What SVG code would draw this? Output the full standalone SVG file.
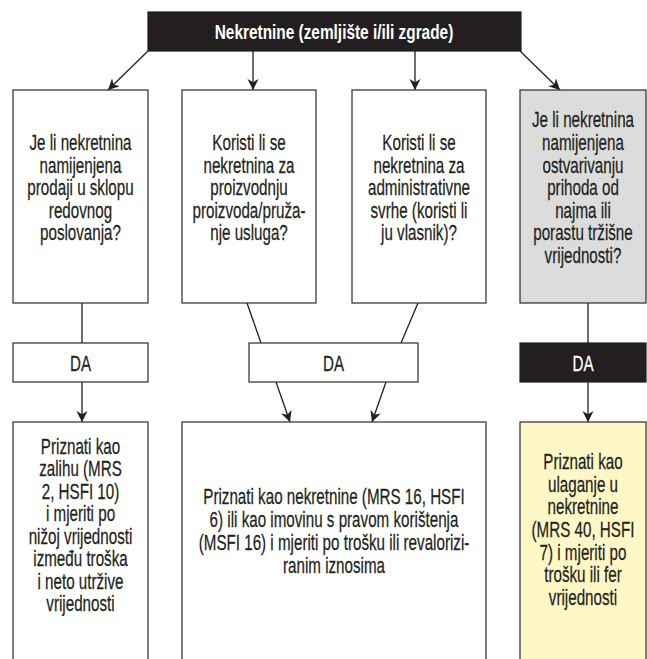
<svg xmlns="http://www.w3.org/2000/svg" width="647" height="659" viewBox="0 0 647 659">
<defs>
<style>
.box{fill:#ffffff;stroke:#2b2b2b;stroke-width:1.2}
.gray{fill:#dcdcdc}
.yellow{fill:#fff8c6}
.dark{fill:#231f20;stroke:#231f20}
.t{font-family:"Liberation Sans",Arial,sans-serif;font-size:22px;fill:#231f20;text-anchor:middle;stroke:#231f20;stroke-width:0.25}
.w{fill:#ffffff;stroke:#ffffff}
.b{font-weight:bold;font-size:20px;stroke:none}
.c{stroke:#231f20;stroke-width:1.3;fill:none}
.a{marker-end:url(#ah)}
</style>
<marker id="ah" markerUnits="userSpaceOnUse" markerWidth="12" markerHeight="12" refX="11" refY="5.5" orient="auto">
<path d="M0,0 L11,5.5 L0,11 L3.2,5.5 Z" fill="#231f20"/>
</marker>
</defs>
<rect width="647" height="659" fill="#ffffff"/>
<g id="connectors">
<line class="c a" x1="148" y1="51" x2="108" y2="90"/>
<line class="c a" x1="253" y1="51" x2="253" y2="90"/>
<line class="c a" x1="415" y1="51" x2="415" y2="90"/>
<line class="c a" x1="520" y1="51" x2="560" y2="90"/>
<line class="c" x1="82" y1="303" x2="82" y2="343"/>
<line class="c a" x1="82" y1="382" x2="82" y2="422"/>
<line class="c" x1="247" y1="303" x2="261" y2="343"/>
<line class="c a" x1="276" y1="382" x2="290" y2="422"/>
<line class="c" x1="418" y1="303" x2="401" y2="343"/>
<line class="c a" x1="386" y1="382" x2="372" y2="422"/>
<line class="c" x1="588" y1="303" x2="588" y2="343"/>
<line class="c a" x1="588" y1="382" x2="588" y2="422"/>
</g>
<g id="title">
<rect class="box dark" x="148" y="12" width="373" height="39"/>
<text class="t w b" transform="translate(334 0) scale(0.77 1)" x="0" y="39">Nekretnine (zemljište i/ili zgrade)</text>
</g>
<g id="q1">
<rect class="box" x="13" y="90" width="135" height="213"/>
<text class="t" transform="translate(80.5 0) scale(0.69 1)"><tspan x="0" y="150.5">Je li nekretnina</tspan><tspan x="0" y="173">namijenjena</tspan><tspan x="0" y="195.5">prodaji u sklopu</tspan><tspan x="0" y="218">redovnog</tspan><tspan x="0" y="240.5">poslovanja?</tspan></text>
</g>
<g id="q2">
<rect class="box" x="182" y="90" width="134" height="213"/>
<text class="t" transform="translate(249 0) scale(0.69 1)"><tspan x="0" y="150.5">Koristi li se</tspan><tspan x="0" y="173">nekretnina za</tspan><tspan x="0" y="195.5">proizvodnju</tspan><tspan x="0" y="218">proizvoda/pruža-</tspan><tspan x="0" y="240.5">nje usluga?</tspan></text>
</g>
<g id="q3">
<rect class="box" x="352" y="90" width="134" height="213"/>
<text class="t" transform="translate(419 0) scale(0.69 1)"><tspan x="0" y="150.5">Koristi li se</tspan><tspan x="0" y="173">nekretnina za</tspan><tspan x="0" y="195.5">administrativne</tspan><tspan x="0" y="218">svrhe (koristi li</tspan><tspan x="0" y="240.5">ju vlasnik)?</tspan></text>
</g>
<g id="q4">
<rect class="box gray" x="520" y="90" width="126" height="213"/>
<text class="t" transform="translate(583 0) scale(0.69 1)"><tspan x="0" y="127">Je li nekretnina</tspan><tspan x="0" y="150.5">namijenjena</tspan><tspan x="0" y="173">ostvarivanju</tspan><tspan x="0" y="195.5">prihoda od</tspan><tspan x="0" y="218">najma ili</tspan><tspan x="0" y="240.5">porastu tržišne</tspan><tspan x="0" y="263.5">vrijednosti?</tspan></text>
</g>
<g id="da1">
<rect class="box" x="13" y="343" width="135" height="39"/>
<text class="t" transform="translate(80.5 0) scale(0.69 1)" x="0" y="371">DA</text>
</g>
<g id="da2">
<rect class="box" x="249" y="343" width="169" height="39"/>
<text class="t" transform="translate(333.5 0) scale(0.69 1)" x="0" y="371">DA</text>
</g>
<g id="da3">
<rect class="box dark" x="520" y="343" width="126" height="39"/>
<text class="t w" transform="translate(583 0) scale(0.69 1)" x="0" y="371">DA</text>
</g>
<g id="r1">
<rect class="box" x="13" y="422" width="135" height="260"/>
<text class="t" transform="translate(80.5 0) scale(0.69 1)"><tspan x="0" y="454">Priznati kao</tspan><tspan x="0" y="476.5">zalihu (MRS</tspan><tspan x="0" y="499">2, HSFI 10)</tspan><tspan x="0" y="521.5">i mjeriti po</tspan><tspan x="0" y="544">nižoj vrijednosti</tspan><tspan x="0" y="566.5">između troška</tspan><tspan x="0" y="589">i neto utržive</tspan><tspan x="0" y="611.5">vrijednosti</tspan></text>
</g>
<g id="r2">
<rect class="box" x="182" y="422" width="304" height="260"/>
<text class="t" transform="translate(334 0) scale(0.69 1)"><tspan x="0" y="504">Priznati kao nekretnine (MRS 16, HSFI</tspan><tspan x="0" y="527">6) ili kao imovinu s pravom korištenja</tspan><tspan x="0" y="550">(MSFI 16) i mjeriti po trošku ili revalorizi-</tspan><tspan x="0" y="573">ranim iznosima</tspan></text>
</g>
<g id="r3">
<rect class="box yellow" x="520" y="422" width="126" height="260"/>
<text class="t" transform="translate(583 0) scale(0.69 1)"><tspan x="0" y="469">Priznati kao</tspan><tspan x="0" y="492">ulaganje u</tspan><tspan x="0" y="514.5">nekretnine</tspan><tspan x="0" y="537">(MRS 40, HSFI</tspan><tspan x="0" y="560">7) i mjeriti po</tspan><tspan x="0" y="582.5">trošku ili fer</tspan><tspan x="0" y="605">vrijednosti</tspan></text>
</g>
</svg>
